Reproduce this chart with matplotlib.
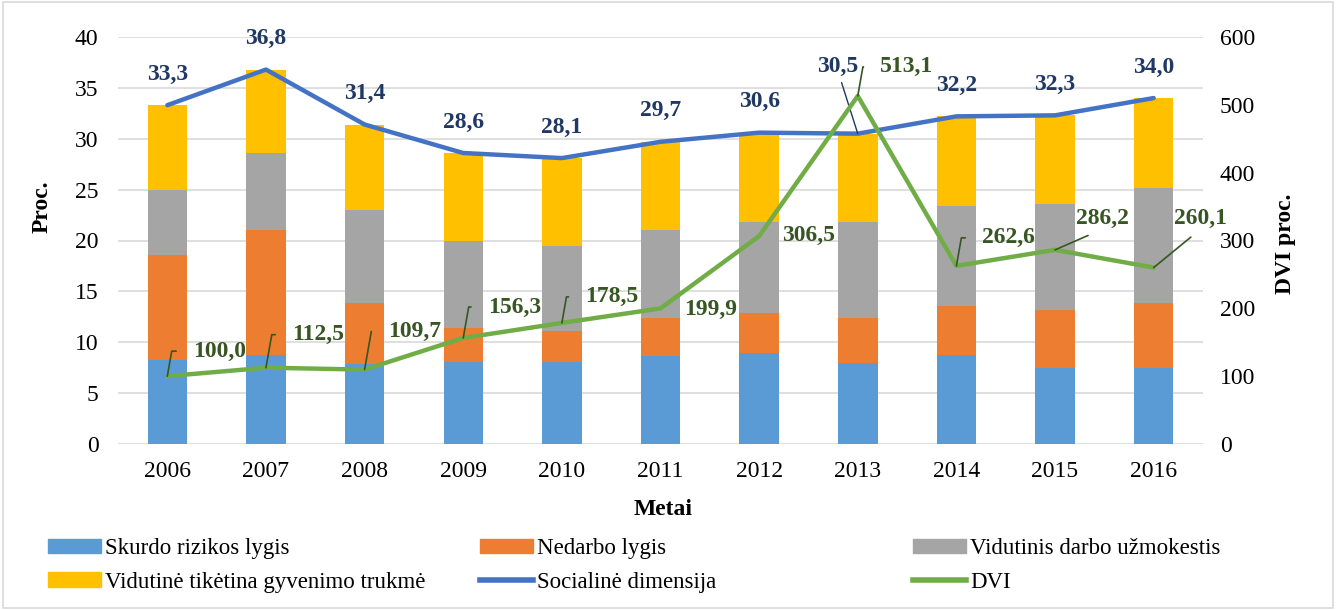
import numpy as np
import matplotlib
matplotlib.use('Agg')
import matplotlib.pyplot as plt
from matplotlib.patches import Patch, Rectangle
from matplotlib.lines import Line2D

plt.rcParams['font.family'] = ['Liberation Serif', 'DejaVu Serif']

metai = ['2006', '2007', '2008', '2009', '2010', '2011', '2012', '2013', '2014', '2015', '2016']
skurdo = [8.3, 8.7, 7.9, 8.1, 8.1, 8.6, 8.9, 8.0, 8.7, 7.5, 7.5]
nedarbo = [10.3, 12.3, 6.0, 3.3, 3.0, 3.8, 4.0, 4.4, 4.9, 5.7, 6.4]
uzmok = [6.4, 7.6, 9.1, 8.6, 8.4, 8.6, 8.9, 9.4, 9.8, 10.4, 11.3]
trukme = [8.3, 8.2, 8.4, 8.6, 8.6, 8.7, 8.8, 8.7, 8.8, 8.7, 8.8]
soc = [33.3, 36.8, 31.4, 28.6, 28.1, 29.7, 30.6, 30.5, 32.2, 32.3, 34.0]
dvi = [100.0, 112.5, 109.7, 156.3, 178.5, 199.9, 306.5, 513.1, 262.6, 286.2, 260.1]

# label offsets in pixels (text centre relative to point)
soc_off = [(0, 31)] * 7 + [(-20, 67)] + [(0, 31)] * 3
dvi_off = [(52, 25), (52, 33), (50, 38), (51, 31), (50, 26), (50, -1), (49, 1),
           (49, 29), (52, 28), (47, 31), (47, 49)]
dvi_lead = ['L', 'L', 'L', 'L', 'L', None, None, 'L', 'L', 'D', 'D']

c_blue, c_or, c_gr, c_ye = '#5B9BD5', '#ED7D31', '#A5A5A5', '#FFC000'
c_line1, c_line2 = '#4472C4', '#70AD47'
c_lab1, c_lab2 = '#1F3864', '#375623'
fs = 17

fig = plt.figure(figsize=(13.36, 6.10), dpi=100)
ax = fig.add_axes([118 / 1336, 1 - 444 / 610, 1085 / 1336, 407 / 610])
x = np.arange(len(metai))
w = 0.4
b1 = np.array(skurdo)
b2 = b1 + np.array(nedarbo)
b3 = b2 + np.array(uzmok)
ax.bar(x, skurdo, w, color=c_blue, zorder=2)
ax.bar(x, nedarbo, w, bottom=b1, color=c_or, zorder=2)
ax.bar(x, uzmok, w, bottom=b2, color=c_gr, zorder=2)
ax.bar(x, trukme, w, bottom=b3, color=c_ye, zorder=2)
ax.plot(x, soc, color=c_line1, lw=3.2, zorder=3, solid_capstyle='round')

ax.set_xlim(-0.5, len(metai) - 0.5)
ax.set_ylim(0, 40)
ax.set_yticks(range(0, 41, 5))
ax.set_xticks(x)
ax.set_xticklabels(metai)
ax.yaxis.grid(True, color='#D9D9D9', lw=1.2, zorder=0)
ax.set_axisbelow(True)
for s in ax.spines.values():
    s.set_visible(False)
ax.tick_params(axis='both', length=0, labelsize=fs)
ax.tick_params(axis='y', pad=14)
ax.tick_params(axis='x', pad=12)
ax.set_ylabel('Proc.', fontsize=fs, fontweight='bold')
ax.yaxis.set_label_coords(-0.060, 0.584)
ax.set_xlabel('Metai', fontsize=fs, fontweight='bold')
ax.xaxis.set_label_coords(0.502, -0.135)

for i, v in enumerate(soc):
    dx, dy = soc_off[i]
    s = f'{v:.1f}'.replace('.', ',')
    if i == 7:
        ax.annotate(s, (x[i], v), xytext=(dx, dy), textcoords='offset pixels',
                    ha='center', va='center', fontsize=fs, fontweight='bold', color=c_lab1,
                    arrowprops=dict(arrowstyle='-', color=c_lab1, lw=1, relpos=(0.55, 0),
                                    shrinkA=2, shrinkB=0), zorder=5)
    else:
        ax.annotate(s, (x[i], v), xytext=(dx, dy), textcoords='offset pixels',
                    ha='center', va='center', fontsize=fs, fontweight='bold', color=c_lab1, zorder=5)

ax2 = ax.twinx()
ax2.plot(x, dvi, color=c_line2, lw=3.2, zorder=4, solid_capstyle='round')
ax2.set_ylim(0, 600)
ax2.set_yticks(range(0, 601, 100))
for s in ax2.spines.values():
    s.set_visible(False)
ax2.tick_params(axis='y', length=0, labelsize=fs, pad=12)
ax2.set_ylabel('DVI proc.', fontsize=fs, fontweight='bold')
ax2.yaxis.set_label_coords(1.066, 0.491)

for i, v in enumerate(dvi):
    dx, dy = dvi_off[i]
    s = f'{v:.1f}'.replace('.', ',')
    kw = dict(xytext=(dx, dy), textcoords='offset pixels', ha='center', va='center',
              fontsize=fs, fontweight='bold', color=c_lab2, zorder=6)
    if dvi_lead[i] == 'L':
        kw['arrowprops'] = dict(arrowstyle='-', color=c_lab2, lw=1.2, relpos=(0, 0.5),
                                connectionstyle='angle,angleA=0,angleB=80,rad=0',
                                shrinkA=10, shrinkB=0)
    elif dvi_lead[i] == 'D':
        kw['arrowprops'] = dict(arrowstyle='-', color=c_lab2, lw=1.2, relpos=(0.5, 0),
                                shrinkA=6, shrinkB=0)
    ax2.annotate(s, (x[i], v), **kw)

# legend in three columns
h_skurdo = Patch(color=c_blue)
h_ned = Patch(color=c_or)
h_uzm = Patch(color=c_gr)
h_tr = Patch(color=c_ye)
h_soc = Line2D([], [], color=c_line1, lw=4)
h_dvi = Line2D([], [], color=c_line2, lw=4)
cols = [([h_skurdo, h_tr], ['Skurdo rizikos lygis', 'Vidutinė tikėtina gyvenimo trukmė'], 48),
        ([h_ned, h_soc], ['Nedarbo lygis', 'Socialinė dimensija'], 480),
        ([h_uzm, h_dvi], ['Vidutinis darbo užmokestis', 'DVI'], 913)]
for hs, ls, px in cols:
    fig.legend(hs, ls, loc='upper left', bbox_to_anchor=(px / 1336, 1 - 538 / 610),
               frameon=False, fontsize=16.5, handlelength=2.3, handleheight=0.6,
               handletextpad=0.2, labelspacing=0.55, borderaxespad=0, borderpad=0)

fig.patches.append(Rectangle((0.002, 0.003), 0.996, 0.994, transform=fig.transFigure,
                             fill=False, edgecolor='#D9D9D9', lw=1.2))

fig.savefig('out.png', dpi=100)
